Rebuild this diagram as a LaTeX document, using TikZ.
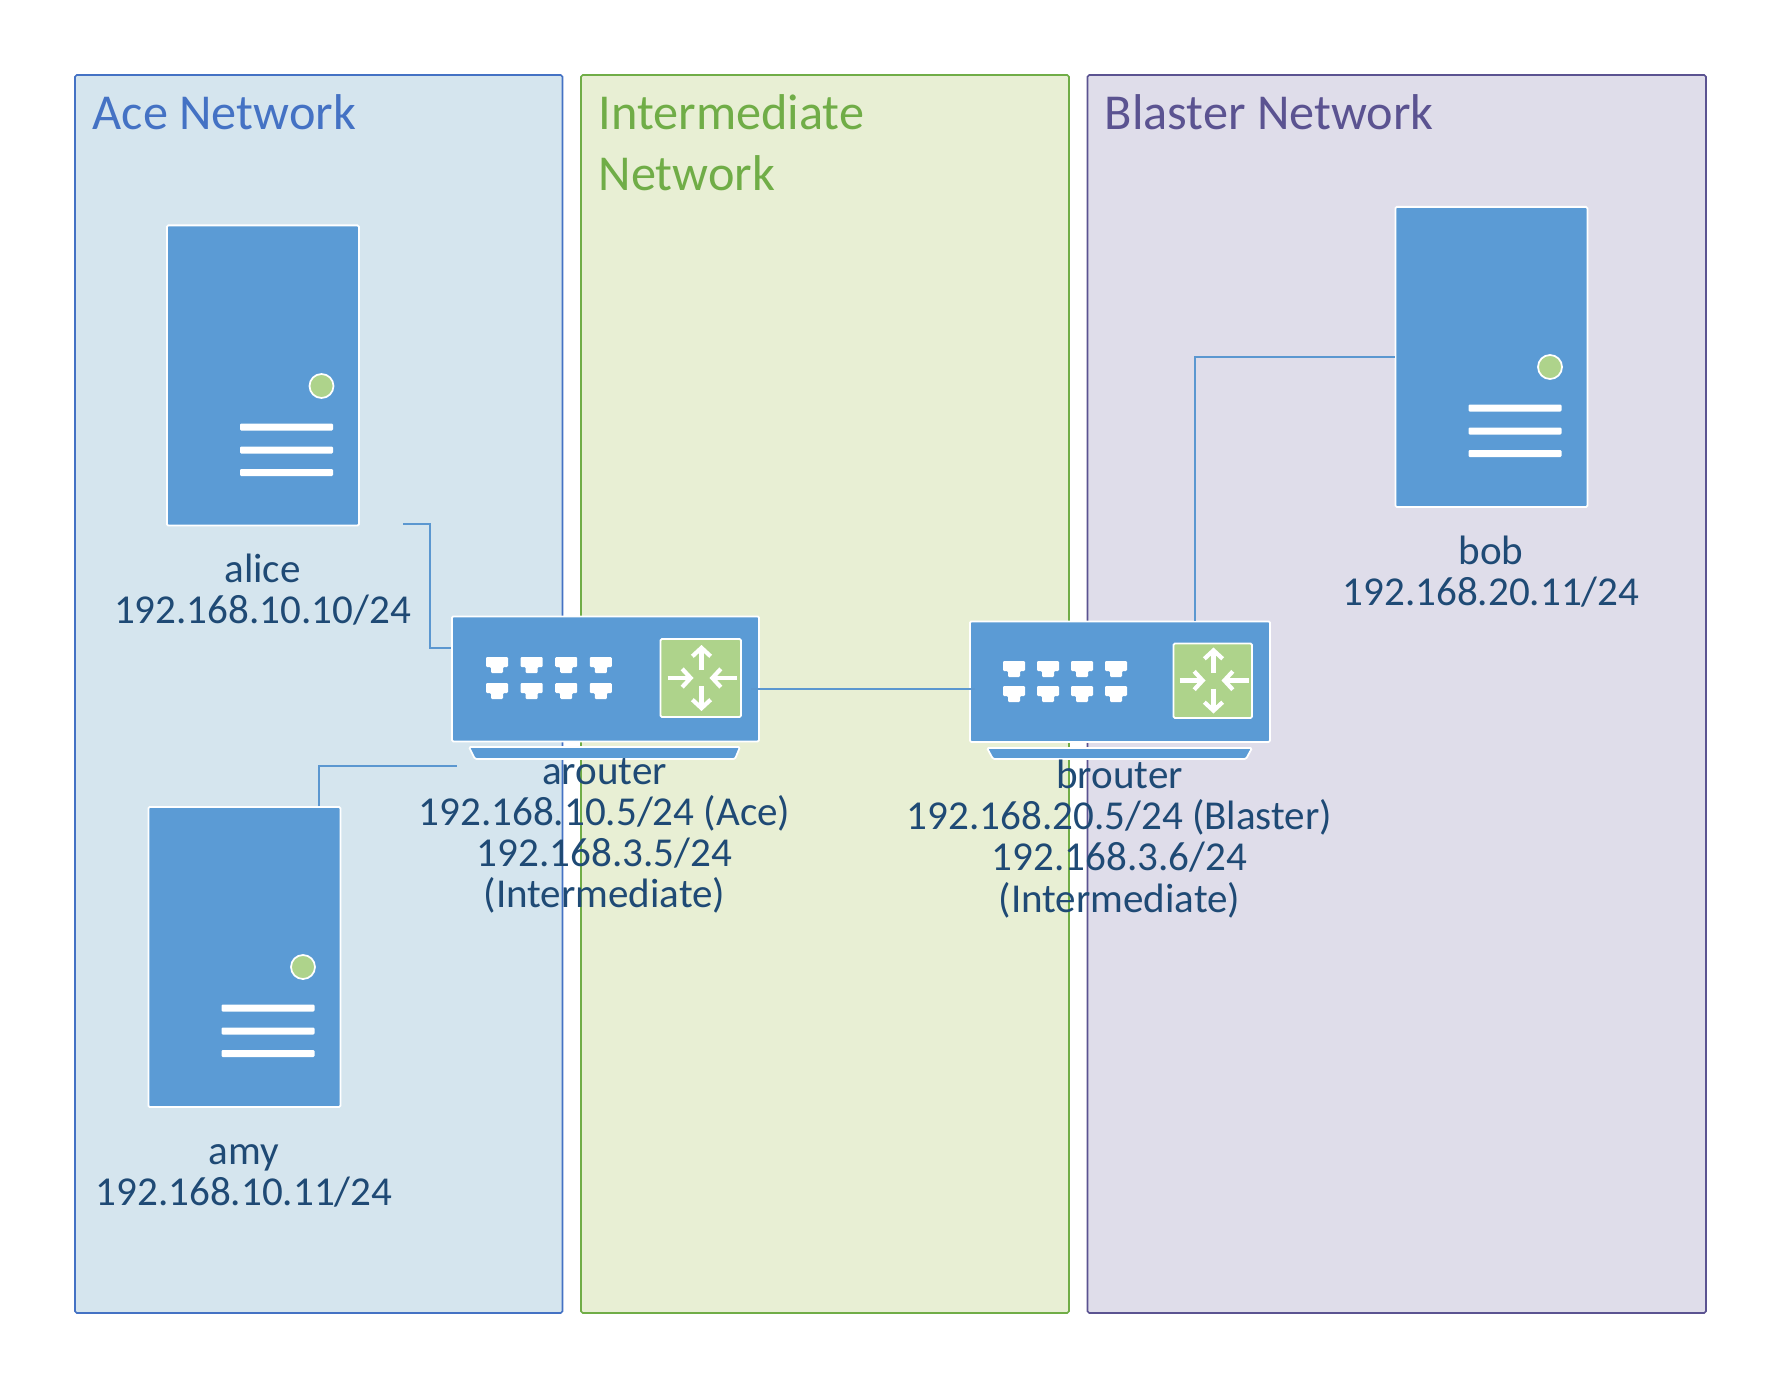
\documentclass[tikz,border=0pt]{standalone}
\usepackage{fontspec}
\setmainfont{Carlito}
\usetikzlibrary{arrows.meta}
\definecolor{devblue}{HTML}{5B9BD5}
\definecolor{devgreen}{HTML}{AED38B}
\definecolor{linkblue}{HTML}{5B97D0}
\definecolor{labelblue}{HTML}{1F4A75}
\definecolor{acecol}{HTML}{4472C4}
\definecolor{acefill}{HTML}{D5E5EE}
\definecolor{midcol}{HTML}{70AD47}
\definecolor{midfill}{HTML}{E8EFD4}
\definecolor{blastcol}{HTML}{5B5391}
\definecolor{blastfill}{HTML}{DFDDEA}
\tikzset{
	panel/.style={line width=0.45pt, rounded corners=0.5pt},
	title/.style={font=\fontsize{14.3}{17.4}\selectfont, anchor=base west, align=left, inner sep=0pt},
	devlabel/.style={font=\fontsize{11.68}{11.7}\selectfont, text=labelblue, align=center, inner sep=0pt},
	device/.style={draw=white, fill=devblue, line width=0.5pt, rounded corners=0.4pt},
	serverbody/.style={device, anchor=north west, inner sep=0pt, minimum width=1.92cm, minimum height=3.0cm},
	routerbody/.style={device, anchor=north west, inner sep=0pt},
	whitebar/.style={fill=white, rounded corners=0.3pt},
	lamp/.style={draw=white, fill=devgreen, line width=0.5pt},
	link/.style={draw=linkblue, line width=0.55pt},
	routerarrow/.style={draw=white, line width=1.3pt, -{Straight Barb[length=2.4pt, width=5.2pt, line width=1.2pt]}},
}
% face of a server, from its top left corner
\newcommand{\serverface}[1]{
	\begin{scope}[shift={(#1)}]
		\draw[lamp] (155.5,161) circle (12);
		\foreach \yy in {202,225,247.5} \fill[whitebar] (74,\yy-3.5) rectangle (167,\yy+3.5);
	\end{scope}
}
% ports and switch square of a router
\newcommand{\routerface}[5]{
	\foreach \row in {#2,#3} \foreach \col in {0,1,2,3} {
		\fill[white, rounded corners=0.3pt, shift={(#1+\col*#4,\row)}]
			(0,0) -- (22,0) -- (22,10) -- (17,10) -- (17,16) -- (5,16) -- (5,10) -- (0,10) -- cycle;
	}
	\begin{scope}[shift={(#5)}]
		\draw[routerarrow] (0,-8) -- (0,-33);
		\draw[routerarrow] (0,8) -- (0,33);
		\draw[routerarrow] (-34,0) -- (-8,0);
		\draw[routerarrow] (35,0) -- (8,0);
	\end{scope}
}
\begin{document}
\begin{tikzpicture}[x=0.01cm, y=-0.01cm]
	\useasboundingbox (0,0) rectangle (1781,1388);
	% networks
	\draw[panel, draw=acecol, fill=acefill] (75,75) rectangle (562.5,1313);
	\draw[panel, draw=midcol, fill=midfill] (581,75) rectangle (1069,1313);
	\draw[panel, draw=blastcol, fill=blastfill] (1087.5,75) rectangle (1706,1313);
	\node[title, text=acecol] (acetitle) at (92,129.5) {Ace Network};
	\node[title, text=midcol, anchor=north west] (midtitle) at (598,94) {Intermediate\\Network};
	\node[title, text=blastcol] (blastertitle) at (1104,129.5) {Blaster Network};
	% hosts
	\node[serverbody] (alice) at (166,224.5) {};
	\node[serverbody] (amy) at (147.5,806) {};
	\node[serverbody] (bob) at (1394.5,206) {};
	\serverface{166,225}
	\serverface{147.5,806}
	\serverface{1394.5,206}
	% routers
	\node[routerbody, minimum width=3.07cm, minimum height=1.25cm] (arouter) at (451,615.5) {};
	\node[routerbody, minimum width=3.0cm, minimum height=1.205cm] (brouter) at (969,620.5) {};
	\draw[device] (469,747) -- (740,747) -- (735,759) -- (475,759) -- cycle;
	\draw[device] (987,748) -- (1252,748) -- (1246,759) -- (993,759) -- cycle;
	\draw[lamp, rounded corners=0.4pt] (660.5,639) rectangle (741,717);
	\draw[lamp, rounded corners=0.4pt] (1173.5,643.5) rectangle (1252,718);
	\routerface{486}{657}{683}{34.6}{701.5,678}
	\routerface{1003}{661}{686}{34}{1213.5,680.5}
	% connectors
	\coordinate (alicestub) at (403,524);
	\coordinate (arouterw) at (arouter.west |- 0,648);
	\coordinate (amytop) at (319,806);
	\coordinate (amystub) at (457,766);
	\coordinate (bobw) at (bob.west |- 0,357);
	\coordinate (brouterport) at (975,689);
	\coordinate (arouterport) at (751,689);
	\coordinate (brouterup) at (1195,621);
	\draw[link] (alicestub) -- (430,524) |- (arouterw);
	\draw[link] (amytop) |- (amystub);
	\draw[link] (brouterup) |- (bobw);
	\draw[link] (arouterport) -- (brouterport);
	% labels
	\node[devlabel] (alicelabel) at (262.5,590) {alice\\192.168.10.10/24};
	\node[devlabel] (amylabel) at (244,1175.5) {amy\\192.168.10.11/24};
	\node[devlabel] (boblabel) at (1491,571.5) {bob\\192.168.20.11/24};
	\node[devlabel] (arouterlabel) at (604.5,836) {arouter\\192.168.10.5/24 (Ace)\\192.168.3.5/24\\(Intermediate)};
	\node[devlabel] (brouterlabel) at (1119.5,839) {brouter\\192.168.20.5/24 (Blaster)\\192.168.3.6/24\\(Intermediate)};
\end{tikzpicture}
\end{document}
